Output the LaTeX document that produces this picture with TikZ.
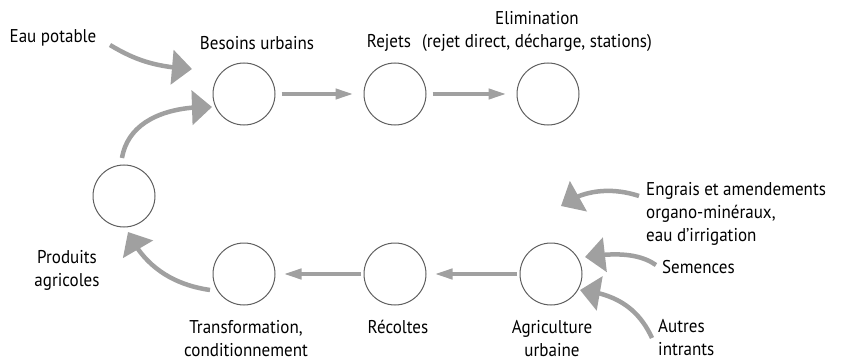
\documentclass[tikz,border=0pt]{standalone}
\usepackage{fontspec}
\setmainfont[FakeStretch=0.92]{PT Sans}
\usetikzlibrary{arrows.meta,bending}
\definecolor{arrgray}{RGB}{160,160,160}
\definecolor{circgray}{RGB}{95,95,95}
\begin{document}
\begin{tikzpicture}[x=1pt,y=-1pt,
  stage/.style={circle,draw=circgray,line width=1pt,minimum size=62pt,inner sep=0pt},
  lab/.style={font=\fontsize{18.5}{23}\selectfont,inner sep=0pt,align=center},
  labl/.style={font=\fontsize{18.5}{23}\selectfont,inner sep=0pt,align=left,anchor=west},
  thinarrow/.style={draw=arrgray,line width=4pt,-{Triangle[length=18pt,width=10pt]}},
  fatarrow/.style={draw=arrgray,line width=4.5pt,-{Triangle[length=20pt,width=34pt,flex]}}]
\useasboundingbox (0,0) rectangle (855,361);
% stages
\node[stage] (bes) at (244,94) {};
\node[stage] (rej) at (395,94) {};
\node[stage] (eli) at (548,94) {};
\node[stage] (pro) at (124,196) {};
\node[stage] (tra) at (244,274) {};
\node[stage] (rec) at (395,274) {};
\node[stage] (agr) at (551,274) {};
% labels
\node[lab] (leau) at (53,38) {Eau potable};
\node[lab] (lbes) at (257,43) {Besoins urbains};
\node[lab] (lrej) at (389,43) {Rejets};
\node[lab] (leli) at (537,31) {Elimination\\(rejet direct, décharge, stations)};
\node[lab] (lpro) at (67,270) {Produits\\agricoles};
\node[lab] (ltra) at (246,339) {Transformation,\\conditionnement};
\node[lab] (lrec) at (398,327) {Récoltes};
\node[lab] (lagr) at (552,339) {Agriculture\\urbaine};
\node[labl] (leng) at (646,214) {Engrais et amendements\\organo-minéraux,\\eau d’irrigation};
\node[labl] (lsem) at (662,267) {Semences};
\node[labl] (laut) at (658,338) {Autres\\intrants};
% straight flows
\draw[thinarrow,shorten <=6pt,shorten >=10pt] (bes.east) -- (rej.west);
\draw[thinarrow,shorten <=6pt,shorten >=10pt] (rej.east) -- (eli.west);
\draw[thinarrow,shorten <=3pt,shorten >=8pt] (agr.west) -- (rec.east);
\draw[thinarrow,shorten <=3pt,shorten >=8pt] (rec.west) -- (tra.east);
% curved inputs
\coordinate (eauT) at (110,45);  \coordinate (eauH) at (192,69);
\coordinate (proT) at (122,158); \coordinate (proH) at (212,107);
\coordinate (traT) at (210,290); \coordinate (traH) at (128,232);
\coordinate (engT) at (639,196); \coordinate (engH) at (561,206);
\coordinate (semT) at (656,265); \coordinate (semH) at (585,257);
\coordinate (autT) at (652,338); \coordinate (autH) at (580,290);
\draw[fatarrow] (eauT) .. controls (135,60) and (155,67) .. (eauH);
\draw[fatarrow] (proT) .. controls (128,122) and (165,106) .. (proH);
\draw[fatarrow] (traT) .. controls (175,285) and (145,268) .. (traH);
\draw[fatarrow] (engT) .. controls (615,188) and (585,188) .. (engH);
\draw[fatarrow] (semT) .. controls (640,254) and (618,252) .. (semH);
\draw[fatarrow] (autT) .. controls (640,312) and (620,294) .. (autH);
\end{tikzpicture}
\end{document}
